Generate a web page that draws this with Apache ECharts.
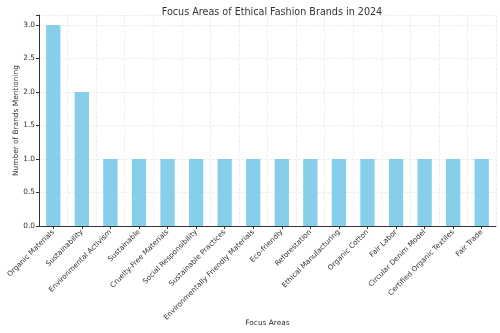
<!DOCTYPE html>
<html><head><meta charset="utf-8">
<script src="https://cdn.jsdelivr.net/npm/echarts@6/dist/echarts.min.js"></script>
<style>html,body{margin:0;padding:0;background:#fff}#c{width:500px;height:333px}</style>
</head><body><div id="c"></div>
<script>
const categories = ["Organic Materials","Sustainability","Environmental Activism","Sustainable","Cruelty-Free Materials","Social Responsibility","Sustainable Practices","Environmentally Friendly Materials","Eco-friendly","Reforestation","Ethical Manufacturing","Organic Cotton","Fair Labor","Circular Denim Model","Certified Organic Textiles","Fair Trade"];
const values = [3,2,1,1,1,1,1,1,1,1,1,1,1,1,1,1];
const yTicks = [0,0.5,1,1.5,2,2.5,3];

const chart = echarts.init(document.getElementById('c'), null, {renderer:'canvas'});
const font = 'DejaVu Sans';
chart.setOption({
  animation:false,
  textStyle:{fontFamily:font},
  title:{text:'Focus Areas of Ethical Fashion Brands in 2024', left:267, top:2, textAlign:'center',
    textStyle:{fontFamily:font,fontSize:9.6,fontWeight:'normal',color:'#333'}},
  grid:{left:39,right:4,top:15,bottom:107,containLabel:false,outerBoundsMode:'none'},
  xAxis:{type:'category',data:categories,
    axisLine:{lineStyle:{color:'#333',width:1}},
    axisTick:{show:true,alignWithLabel:true,length:3,lineStyle:{color:'#333'}},
    axisLabel:{rotate:45,interval:0,fontSize:7.2,color:'#333',margin:5,fontFamily:font},
    splitLine:{show:true,lineStyle:{color:'#e8e8e8',type:'dashed',width:0.8}},
    name:'Focus Areas',nameLocation:'middle',nameGap:94,nameMoveOverlap:false,
    nameTextStyle:{fontSize:7.4,color:'#333',fontFamily:font}},
  yAxis:{type:'value',min:0,max:3.15,interval:0.5,
    axisLine:{show:true,lineStyle:{color:'#333',width:1}},
    axisTick:{show:true,length:3,lineStyle:{color:'#333'}},
    axisLabel:{fontSize:7.4,color:'#333',margin:4,fontFamily:font,
      formatter:v=>yTicks.includes(v)?v.toFixed(1):''},
    splitLine:{show:true,lineStyle:{color:'#e8e8e8',type:'dashed',width:0.8}},
    name:'Number of Brands Mentioning',nameLocation:'middle',nameGap:19,nameMoveOverlap:false,
    nameTextStyle:{fontSize:7.4,color:'#333',fontFamily:font}},
  series:[{type:'bar',data:values,barWidth:'50%',itemStyle:{color:'#87CEEB'}}]
});
</script></body></html>
